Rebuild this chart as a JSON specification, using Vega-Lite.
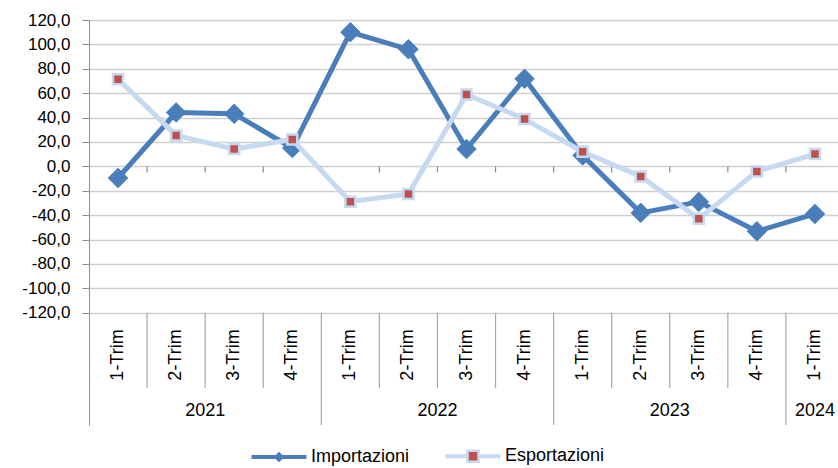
{
  "$schema": "https://vega.github.io/schema/vega-lite/v6.json",
  "width": 749,
  "height": 405,
  "autosize": "none",
  "padding": {"left": 89, "top": 20, "right": 0, "bottom": 43},
  "config": {
    "view": {"stroke": null},
    "font": "Liberation Sans, Arial, sans-serif",
    "text": {"font": "Liberation Sans, Arial, sans-serif"}
  },
  "datasets": {
    "serie": [
      {"key": "2021-1", "serie": "Importazioni", "valore": -9.5},
      {"key": "2021-2", "serie": "Importazioni", "valore": 44.2},
      {"key": "2021-3", "serie": "Importazioni", "valore": 43.1},
      {"key": "2021-4", "serie": "Importazioni", "valore": 15.0},
      {"key": "2022-1", "serie": "Importazioni", "valore": 110.0},
      {"key": "2022-2", "serie": "Importazioni", "valore": 96.0},
      {"key": "2022-3", "serie": "Importazioni", "valore": 14.2},
      {"key": "2022-4", "serie": "Importazioni", "valore": 71.8},
      {"key": "2023-1", "serie": "Importazioni", "valore": 9.0},
      {"key": "2023-2", "serie": "Importazioni", "valore": -38.1},
      {"key": "2023-3", "serie": "Importazioni", "valore": -29.1},
      {"key": "2023-4", "serie": "Importazioni", "valore": -53.2},
      {"key": "2024-1", "serie": "Importazioni", "valore": -39.0},
      {"key": "2021-1", "serie": "Esportazioni", "valore": 71.5},
      {"key": "2021-2", "serie": "Esportazioni", "valore": 25.4},
      {"key": "2021-3", "serie": "Esportazioni", "valore": 14.2},
      {"key": "2021-4", "serie": "Esportazioni", "valore": 22.1},
      {"key": "2022-1", "serie": "Esportazioni", "valore": -28.9},
      {"key": "2022-2", "serie": "Esportazioni", "valore": -22.6},
      {"key": "2022-3", "serie": "Esportazioni", "valore": 58.9},
      {"key": "2022-4", "serie": "Esportazioni", "valore": 38.8},
      {"key": "2023-1", "serie": "Esportazioni", "valore": 12.0},
      {"key": "2023-2", "serie": "Esportazioni", "valore": -8.2},
      {"key": "2023-3", "serie": "Esportazioni", "valore": -43.0},
      {"key": "2023-4", "serie": "Esportazioni", "valore": -4.1},
      {"key": "2024-1", "serie": "Esportazioni", "valore": 10.1}
    ],
    "periodi": [
      {"key": "2021-1", "trim": "1-Trim", "anno": "2021", "n": 1},
      {"key": "2021-2", "trim": "2-Trim", "anno": "2021", "n": 2},
      {"key": "2021-3", "trim": "3-Trim", "anno": "2021", "n": 3},
      {"key": "2021-4", "trim": "4-Trim", "anno": "2021", "n": 4},
      {"key": "2022-1", "trim": "1-Trim", "anno": "2022", "n": 1},
      {"key": "2022-2", "trim": "2-Trim", "anno": "2022", "n": 2},
      {"key": "2022-3", "trim": "3-Trim", "anno": "2022", "n": 3},
      {"key": "2022-4", "trim": "4-Trim", "anno": "2022", "n": 4},
      {"key": "2023-1", "trim": "1-Trim", "anno": "2023", "n": 1},
      {"key": "2023-2", "trim": "2-Trim", "anno": "2023", "n": 2},
      {"key": "2023-3", "trim": "3-Trim", "anno": "2023", "n": 3},
      {"key": "2023-4", "trim": "4-Trim", "anno": "2023", "n": 4},
      {"key": "2024-1", "trim": "1-Trim", "anno": "2024", "n": 1}
    ]
  },
  "encoding": {
    "x": {
      "field": "key",
      "type": "nominal",
      "scale": {
        "type": "band",
        "domain": ["2021-1","2021-2","2021-3","2021-4","2022-1","2022-2","2022-3","2022-4","2023-1","2023-2","2023-3","2023-4","2024-1"],
        "range": [0, 755],
        "paddingInner": 0,
        "paddingOuter": 0
      },
      "axis": null
    }
  },
  "layer": [
    {
      "data": {"name": "periodi"},
      "mark": {"type": "rule", "opacity": 0},
      "encoding": {
        "y": {
          "datum": 0,
          "type": "quantitative",
          "scale": {"domain": [-212, 120], "nice": false, "zero": false},
          "axis": {
            "values": [-120,-100,-80,-60,-40,-20,0,20,40,60,80,100,120],
            "tickCount": 40,
            "grid": true,
            "gridColor": "#d0d0d0",
            "gridWidth": 1.3,
            "tickSize": 7,
            "tickColor": "#8c8c8c",
            "domainColor": "#8c8c8c",
            "labelOverlap": false,
            "labelExpr": "(datum.value < 0 ? '-' : '') + replace(format(abs(datum.value), '.1f'), '.', ',')",
            "labelFontSize": 17,
            "labelColor": "#000000",
            "labelPadding": 12,
            "labelFont": "Liberation Sans, Arial, sans-serif",
            "title": null
          }
        }
      }
    },
    {
      "mark": {"type": "rule", "color": "#8c8c8c", "strokeWidth": 1.2},
      "encoding": {"y": {"datum": 0}}
    },
    {
      "data": {"name": "periodi"},
      "transform": [{"filter": "datum.key != '2021-1'"}],
      "mark": {"type": "rule", "color": "#8c8c8c", "strokeWidth": 1.2},
      "encoding": {
        "x": {"field": "key", "type": "nominal", "bandPosition": 0},
        "y": {"datum": 0},
        "y2": {"datum": -5}
      }
    },
    {
      "data": {"name": "periodi"},
      "transform": [{"filter": "datum.n != 1"}],
      "mark": {"type": "rule", "color": "#a6a6a6", "strokeWidth": 1.2},
      "encoding": {
        "x": {"field": "key", "type": "nominal", "bandPosition": 0},
        "y": {"datum": -120},
        "y2": {"datum": -181.7}
      }
    },
    {
      "data": {"name": "periodi"},
      "transform": [{"filter": "datum.n == 1 && datum.anno != '2021'"}],
      "mark": {"type": "rule", "color": "#a6a6a6", "strokeWidth": 1.2},
      "encoding": {
        "x": {"field": "key", "type": "nominal", "bandPosition": 0},
        "y": {"datum": -120},
        "y2": {"datum": -212}
      }
    },
    {
      "data": {"name": "periodi"},
      "mark": {"type": "text", "angle": 270, "align": "center", "baseline": "middle", "fontSize": 18, "color": "#000000"},
      "encoding": {
        "y": {"datum": -154.6},
        "text": {"field": "trim"}
      }
    },
    {
      "data": {"name": "periodi"},
      "transform": [{"filter": "datum.n == 3"}],
      "mark": {"type": "text", "align": "center", "baseline": "middle", "fontSize": 18, "color": "#000000"},
      "encoding": {
        "x": {"field": "key", "type": "nominal", "bandPosition": 0},
        "y": {"datum": -200.5},
        "text": {"field": "anno"}
      }
    },
    {
      "data": {"name": "periodi"},
      "transform": [{"filter": "datum.anno == '2024'"}],
      "mark": {"type": "text", "align": "center", "baseline": "middle", "fontSize": 18, "color": "#000000"},
      "encoding": {
        "y": {"datum": -200.5},
        "text": {"field": "anno"}
      }
    },
    {
      "data": {"name": "serie"},
      "transform": [{"filter": "datum.serie == 'Importazioni'"}],
      "mark": {"type": "line", "strokeWidth": 5, "strokeJoin": "round"},
      "encoding": {
        "y": {"field": "valore", "type": "quantitative"},
        "color": {
          "field": "serie",
          "type": "nominal",
          "scale": {"domain": ["Importazioni", "Esportazioni"], "range": ["#4a7ebb", "#c6d9f1"]},
          "legend": {
            "orient": "none",
            "legendX": 161,
            "legendY": 407,
            "direction": "horizontal",
            "title": null,
            "symbolSize": 3025,
            "symbolStrokeWidth": 2.5,
            "labelFontSize": 18,
            "labelColor": "#000000",
            "labelFont": "Liberation Sans, Arial, sans-serif",
            "labelOffset": 3,
            "columnPadding": 30,
            "encode": {
              "symbols": {
                "update": {
                  "shape": {"signal": "datum.value === 'Importazioni' ? 'M-1,-0.025H1M-1,0.025H1M0,-0.13L0.13,0L0,0.13L-0.13,0Z' : 'M-1,-0.025H-0.2M0.2,-0.025H1M-1,0.025H-0.2M0.2,0.025H1M-0.2,-0.2H0.2V0.2H-0.2Z'"},
                  "fill": {"signal": "datum.value === 'Importazioni' ? '#4a7ebb' : '#c0504d'"},
                  "stroke": {"signal": "datum.value === 'Importazioni' ? '#4a7ebb' : '#c6d9f1'"},
                  "fillOpacity": {"value": 1},
                  "strokeWidth": {"value": 2.5}
                }
              }
            }
          }
        }
      }
    },
    {
      "data": {"name": "serie"},
      "transform": [{"filter": "datum.serie == 'Importazioni'"}],
      "mark": {"type": "point", "shape": "diamond", "filled": true, "size": 380, "color": "#4a7ebb", "stroke": "#4a7ebb", "strokeWidth": 1, "opacity": 1},
      "encoding": {
        "y": {"field": "valore", "type": "quantitative"}
      }
    },
    {
      "data": {"name": "serie"},
      "transform": [{"filter": "datum.serie == 'Esportazioni'"}],
      "mark": {"type": "line", "strokeWidth": 5, "strokeJoin": "round"},
      "encoding": {
        "y": {"field": "valore", "type": "quantitative"},
        "color": {"field": "serie", "type": "nominal"}
      }
    },
    {
      "data": {"name": "serie"},
      "transform": [{"filter": "datum.serie == 'Esportazioni'"}],
      "mark": {"type": "point", "shape": "square", "filled": true, "size": 100, "fill": "#c0504d", "stroke": "#c6d9f1", "strokeWidth": 2.5, "opacity": 1},
      "encoding": {
        "y": {"field": "valore", "type": "quantitative"}
      }
    }
  ]
}
